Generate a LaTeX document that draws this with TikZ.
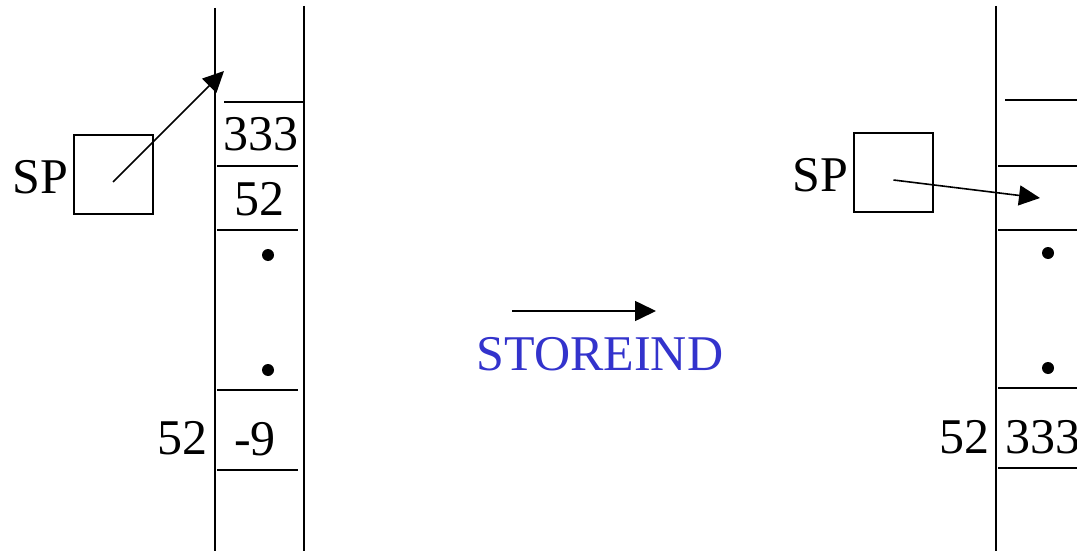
\documentclass[tikz,border=0pt]{standalone}
\usepackage{fontspec}
\setmainfont{Liberation Serif}
\usetikzlibrary{arrows.meta}
\definecolor{opblue}{RGB}{51,51,204}
\begin{document}
\begin{tikzpicture}[x=1pt,y=-1pt,line width=1.8pt,
  lbl/.style={anchor=base,inner sep=0pt,font=\fontsize{50}{60}\selectfont},
  spbox/.style={draw,line width=2pt,minimum size=79pt,inner sep=0pt},
  ptr/.style={-{Triangle[length=21pt,width=20pt]},line width=1.6pt},
  dotmark/.style={fill=black,draw=none}]
\useasboundingbox (0,0) rectangle (1077,551);
\clip (0,0) rectangle (1077,551);

% ---- stack before STOREIND ----
\draw (215,8) -- (215,551);
\draw (304,6) -- (304,551);
\draw (224,102) -- (304,102);
\draw (217,166) -- (298,166);
\draw (217,230) -- (298,230);
\draw (217,390) -- (298,390);
\draw (217,470) -- (298,470);
\fill[dotmark] (268,255) circle (6);
\fill[dotmark] (268,370) circle (6);
\node[lbl] (topL) at (260.5,150) {333};
\node[lbl] (nxtL) at (259,215) {52};
\node[lbl] (cellL) at (255,455) {-9};
\node[lbl] (adrL) at (182.5,454) {52};
\node[lbl] (spLt) at (40.5,193) {SP};
\node[spbox] (spL) at (113,174) {};
\coordinate (tipL) at (224,71);
\draw[ptr] ([yshift=-8pt]spL.center) -- (tipL);

% ---- operation ----
\coordinate (opA) at (512,311);
\coordinate (opB) at (656,311);
\draw[ptr] (opA) -- (opB);
\node[lbl,text=opblue] (op) at (600,370) {STOREIND};

% ---- stack after STOREIND (runs past the right edge) ----
\draw (996,6) -- (996,551);
\draw (1005,100) -- (1090,100);
\draw (998,166) -- (1090,166);
\draw (998,230) -- (1090,230);
\draw (998,388) -- (1090,388);
\draw (998,468) -- (1090,468);
\fill[dotmark] (1048,253) circle (6);
\fill[dotmark] (1048,368) circle (6);
\node[lbl] (cellR) at (1043,453) {333};
\node[lbl] (adrR) at (964,453) {52};
\node[lbl] (spRt) at (820.5,191) {SP};
\node[spbox] (spR) at (893.5,172) {};
\coordinate (tipR) at (1040,198);
\draw[ptr] ([yshift=-8pt]spR.center) -- (tipR);
\end{tikzpicture}
\end{document}
